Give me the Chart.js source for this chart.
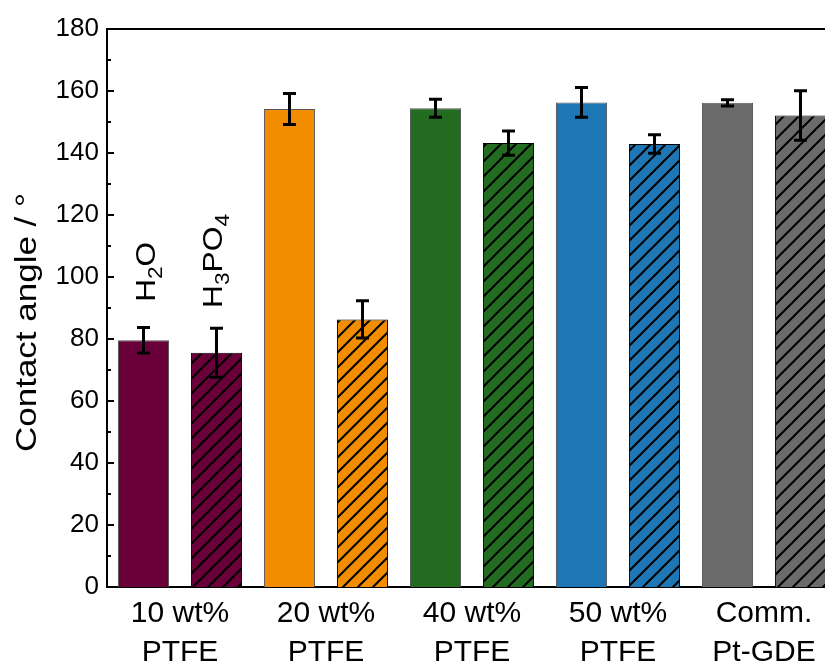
<!DOCTYPE html>
<html>
<head>
<meta charset="utf-8">
<script src="https://cdn.jsdelivr.net/npm/chart.js@4"></script>
<style>
  html, body { margin: 0; padding: 0; background: #fff; overflow: hidden; }
  #wrap { width: 845px; height: 663px; }
</style>
</head>
<body>
<div id="wrap"><canvas id="angleChart" width="845" height="663"></canvas></div>
<script>
// === data ===
const groups = [['10 wt%', 'PTFE'], ['20 wt%', 'PTFE'], ['40 wt%', 'PTFE'], ['50 wt%', 'PTFE'], ['Comm.', 'Pt-GDE']];
const h2oValues = [79.6, 154.2, 154.4, 156.3, 156.2];
const h2oErrors = [4.1, 5.0, 2.9, 4.8, 1.0];
const h3po4Values = [75.6, 86.3, 143.2, 142.9, 152.1];
const h3po4Errors = [7.9, 6.0, 3.9, 3.0, 8.0];
const groupColors = ['#690039', '#f28c00', '#236b21', '#1f76b4', '#6b6b6b'];
const yMin = 0, yMax = 180, yStep = 20, yMinorStep = 10;

const FONT = 'Liberation Sans, Arial, sans-serif';

function hatch(color) {
    const s = 15;
    const c = document.createElement('canvas');
    c.width = s; c.height = s;
    const g = c.getContext('2d');
    g.fillStyle = color;
    g.fillRect(0, 0, s, s);
    g.strokeStyle = '#000';
    g.lineWidth = 2;
    g.beginPath();
    g.moveTo(-2, s + 2); g.lineTo(s + 2, -2);
    g.moveTo(-2, 2); g.lineTo(2, -2);
    g.moveTo(s - 2, s + 2); g.lineTo(s + 2, s - 2);
    g.stroke();
    return g.createPattern(c, 'repeat');
}

// error bars
const errorBars = {
    id: 'errorBars',
    afterDatasetsDraw(chart) {
        const ctx = chart.ctx, y = chart.scales.y;
        const errs = [h2oErrors, h3po4Errors];
        ctx.save();
        ctx.strokeStyle = '#000';
        ctx.lineWidth = 3;
        chart.data.datasets.forEach((ds, i) => {
            chart.getDatasetMeta(i).data.forEach((bar, j) => {
                const v = ds.data[j], e = errs[i][j];
                const top = y.getPixelForValue(v + e), bot = y.getPixelForValue(v - e);
                ctx.beginPath();
                ctx.moveTo(bar.x, top); ctx.lineTo(bar.x, bot);
                ctx.moveTo(bar.x - 6.5, top); ctx.lineTo(bar.x + 6.5, top);
                ctx.moveTo(bar.x - 6.5, bot); ctx.lineTo(bar.x + 6.5, bot);
                ctx.stroke();
            });
        });
        ctx.restore();
    }
};

// frame, inward ticks, y title, liquid labels
const decorations = {
    id: 'decorations',
    afterDraw(chart) {
        const ctx = chart.ctx, a = chart.chartArea, y = chart.scales.y;
        ctx.save();
        ctx.strokeStyle = '#000';
        ctx.lineWidth = 2;
        ctx.beginPath();
        ctx.moveTo(a.left, a.top); ctx.lineTo(chart.width, a.top);
        for (let v = yMin; v <= yMax; v += yMinorStep) {
            const py = Math.round(y.getPixelForValue(v));
            const len = (v % yStep === 0) ? 7 : 4;
            ctx.moveTo(a.left, py); ctx.lineTo(a.left + len, py);
        }
        ctx.stroke();

        // y title (stretched a bit like the original)
        ctx.fillStyle = '#000';
        ctx.font = '29px ' + FONT;
        ctx.textBaseline = 'alphabetic';
        ctx.textAlign = 'left';
        const title = 'Contact angle / °';
        const w = ctx.measureText(title).width;
        ctx.translate(36, 452);
        ctx.rotate(-Math.PI / 2);
        ctx.scale(259 / w, 1);
        ctx.fillText(title, 0, 0);
        ctx.restore();

        // H2O / H3PO4 labels over the first group
        const m0 = chart.getDatasetMeta(0).data[0], m1 = chart.getDatasetMeta(1).data[0];
        drawFormula(ctx, [['H', 0], ['2', 1], ['O', 0]], m0.x + 11, y.getPixelForValue(92), 60);
        drawFormula(ctx, [['H', 0], ['3', 1], ['PO', 0], ['4', 1]], m1.x + 5, y.getPixelForValue(90), 94);
    }
};

function drawFormula(ctx, parts, x, y, len) {
    ctx.save();
    ctx.translate(x, y);
    ctx.rotate(-Math.PI / 2);
    ctx.fillStyle = '#000';
    ctx.textBaseline = 'alphabetic';
    ctx.textAlign = 'left';
    let total = 0;
    parts.forEach(([t, sub]) => {
        ctx.font = (sub ? '20px ' : '28px ') + FONT;
        total += ctx.measureText(t).width;
    });
    ctx.scale(len / total, 1);
    let pos = 0;
    parts.forEach(([t, sub]) => {
        ctx.font = (sub ? '20px ' : '28px ') + FONT;
        ctx.fillText(t, pos, sub ? 7 : 0);
        pos += ctx.measureText(t).width;
    });
    ctx.restore();
}

const ctxAngle = document.getElementById('angleChart').getContext('2d');
new Chart(ctxAngle, {
    type: 'bar',
    data: {
        labels: groups,
        datasets: [{
            label: 'H2O',
            data: h2oValues,
            backgroundColor: groupColors,
            borderColor: '#555',
            borderWidth: 1
        }, {
            label: 'H3PO4',
            data: h3po4Values,
            backgroundColor: groupColors.map(hatch),
            borderColor: '#000',
            borderWidth: 1
        }]
    },
    options: {
        responsive: false,
        animation: false,
        devicePixelRatio: 1,
        categoryPercentage: 1.0,
        barPercentage: 0.7,
        layout: { padding: { top: 29, right: 8, left: 0, bottom: 0 } },
        plugins: {
            legend: { display: false },
            tooltip: { enabled: false }
        },
        scales: {
            x: {
                grid: { display: false, drawTicks: false },
                border: { display: true, color: '#000', width: 2 },
                ticks: { color: '#000', font: { family: FONT, size: 30, lineHeight: 1.28 }, padding: 8, maxRotation: 0 },
                afterFit(s) { s.height = 76; }
            },
            y: {
                min: yMin,
                max: yMax,
                grid: { display: false, drawTicks: false },
                border: { display: true, color: '#000', width: 2 },
                ticks: { stepSize: yStep, color: '#000', font: { family: FONT, size: 26 }, padding: 8 },
                afterFit(s) { s.width = 107; }
            }
        }
    },
    plugins: [errorBars, decorations]
});
</script>
</body>
</html>
